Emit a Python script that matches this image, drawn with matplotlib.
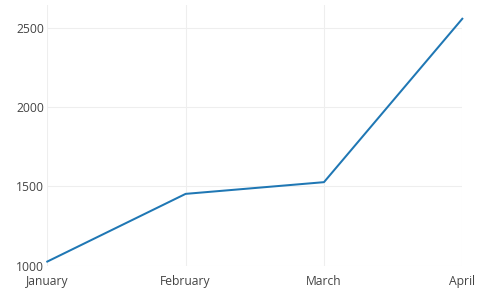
import matplotlib
matplotlib.use("Agg")
import matplotlib.pyplot as plt

months = ["January", "February", "March", "April"]
values = [1025, 1453, 1527, 2560]
yticks = [1000, 1500, 2000, 2500]

W, H = 491, 308
fig = plt.figure(figsize=(W / 100, H / 100), dpi=100)
left, right, top, bottom = 47.3, 462.3, 5, 266
ax = fig.add_axes([left / W, (H - bottom) / H, (right - left) / W, (bottom - top) / H])

x = list(range(len(months)))
ax.plot(x, values, color="#1f77b4", linewidth=1.45, solid_joinstyle="round", zorder=3, clip_on=False)

ax.set_xlim(0, len(months) - 1)
ax.set_ylim(997, 2647)
ax.set_xticks(x)
ax.set_xticklabels(months)
ax.set_yticks(yticks)
ax.set_yticklabels([str(v) for v in yticks])

for s in ax.spines.values():
    s.set_visible(False)
ax.grid(True, color="#eeeeee", linewidth=0.75, zorder=0)
ax.set_axisbelow(True)
ax.tick_params(axis="both", length=0, labelsize=8.7, labelcolor="#444444")
ax.tick_params(axis="x", pad=6.5)
ax.tick_params(axis="y", pad=2.5)
for lab in ax.get_xticklabels() + ax.get_yticklabels():
    lab.set_fontfamily("Open Sans")

fig.savefig("out.png", dpi=100)
